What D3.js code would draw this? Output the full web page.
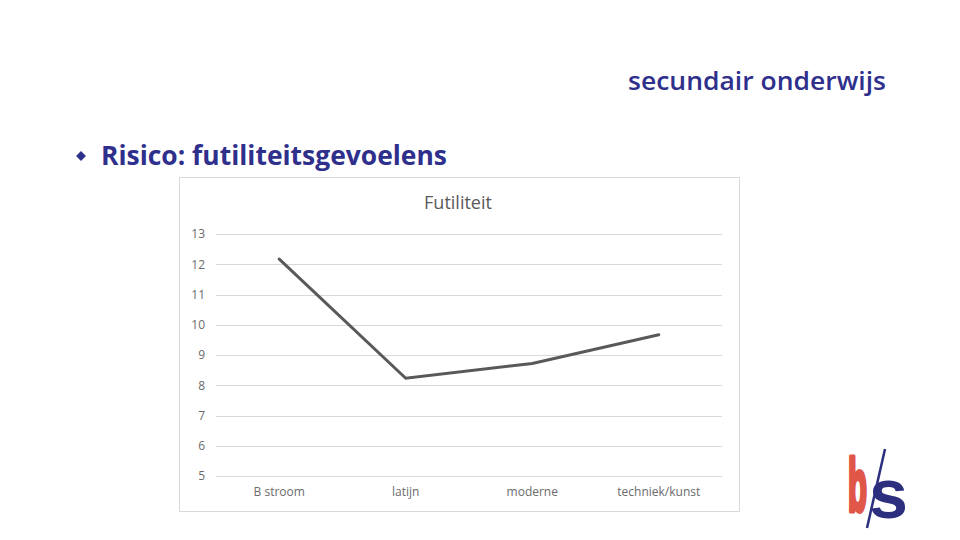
<!DOCTYPE html>
<html><head><meta charset="utf-8">
<script src="https://cdn.jsdelivr.net/npm/d3@7"></script>
<style>html,body{margin:0;padding:0;background:#fff;}svg{display:block;}</style>
</head><body>
<svg id="c" width="960" height="540"></svg>
<script>
const categories = ["B stroom", "latijn", "moderne", "techniek/kunst"];
const values = [12.17, 8.23, 8.72, 9.67];
const yTicks = [5, 6, 7, 8, 9, 10, 11, 12, 13];
const chartTitle = "Futiliteit";
const heading = "secundair onderwijs";
const bulletText = "Risico: futiliteitsgevoelens";

const svg = d3.select("#c");
const navy = "#2f2f8c";

// header
svg.append("text").attr("x", 886).attr("y", 90).attr("text-anchor", "end")
  .attr("font-family", "Open Sans, sans-serif").attr("font-weight", 600).attr("font-size", 26)
  .attr("fill", navy).attr("textLength", 258).attr("lengthAdjust", "spacingAndGlyphs")
  .text(heading);

// bullet
svg.append("path").attr("d", d3.symbol(d3.symbolDiamond2, 62)())
  .attr("transform", "translate(81,156)").attr("fill", navy);
svg.append("text").attr("x", 101).attr("y", 165)
  .attr("font-family", "Open Sans, sans-serif").attr("font-weight", "bold").attr("font-size", 26)
  .attr("fill", navy).attr("textLength", 346).attr("lengthAdjust", "spacingAndGlyphs")
  .text(bulletText);

// chart box
svg.append("rect").attr("x", 179.5).attr("y", 177.5).attr("width", 560).attr("height", 334)
  .attr("fill", "#fff").attr("stroke", "#d9d9d9");

svg.append("text").attr("x", 458).attr("y", 209).attr("text-anchor", "middle")
  .attr("font-family", "Open Sans, sans-serif").attr("font-size", 18).attr("fill", "#595959")
  .text(chartTitle);

const x = d3.scaleBand().domain(categories).range([216, 722]);
const y = d3.scaleLinear().domain([5, 13]).range([476, 234]);

const grid = svg.append("g");
grid.selectAll("line").data(yTicks).join("line")
  .attr("x1", 216).attr("x2", 722)
  .attr("y1", d => Math.round(y(d)) + 0.5).attr("y2", d => Math.round(y(d)) + 0.5)
  .attr("stroke", "#d9d9d9").attr("stroke-width", 1);

const yAxis = svg.append("g").attr("transform", "translate(216,0)")
  .call(d3.axisLeft(y).tickValues(yTicks).tickSize(0).tickPadding(11));
yAxis.select(".domain").remove();
yAxis.selectAll("text").attr("font-family", "Open Sans, sans-serif").attr("font-size", 12).attr("fill", "#6b6b6b");

const xAxis = svg.append("g").attr("transform", "translate(0,476)")
  .call(d3.axisBottom(x).tickSize(0).tickPadding(11));
xAxis.select(".domain").remove();
xAxis.selectAll("text").attr("font-family", "Open Sans, sans-serif").attr("font-size", 12).attr("fill", "#6b6b6b");

const line = d3.line().x((d, i) => x(categories[i]) + x.bandwidth() / 2).y(d => y(d));
svg.append("path").datum(values).attr("d", line)
  .attr("fill", "none").attr("stroke", "#595959").attr("stroke-width", 3).attr("stroke-linecap", "round");

// logo
const logo = svg.append("g");
logo.append("text").attr("transform", "translate(848,511) scale(0.42,1)")
  .attr("font-family", "Liberation Sans, sans-serif").attr("font-weight", "bold").attr("font-size", 74)
  .attr("fill", "#e0574a").attr("stroke", "#e0574a").attr("stroke-width", 5).attr("stroke-linejoin", "round")
  .text("b");
logo.append("text").attr("x", 869).attr("y", 518)
  .attr("font-family", "Liberation Sans, sans-serif").attr("font-weight", "bold").attr("font-size", 70)
  .attr("fill", "#2b2f7e").text("s");
logo.append("line").attr("x1", 885).attr("y1", 449).attr("x2", 867).attr("y2", 528)
  .attr("stroke", "#2b2f7e").attr("stroke-width", 2.5);
</script>
</body></html>
